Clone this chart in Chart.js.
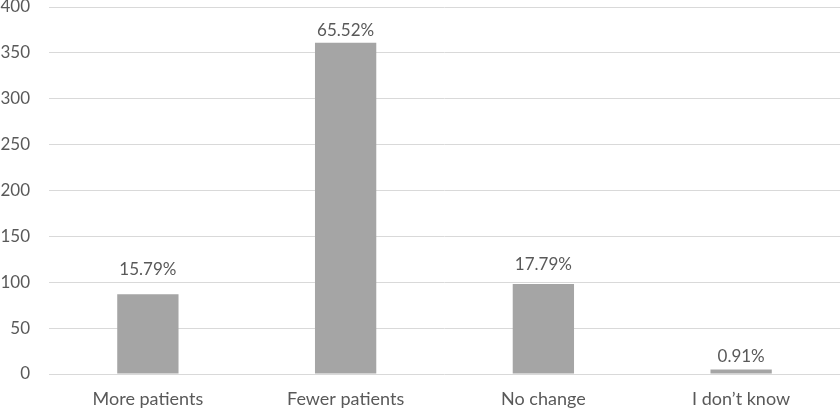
<!DOCTYPE html>
<html>
<head>
<meta charset="utf-8">
<script src="https://cdn.jsdelivr.net/npm/chart.js@4"></script>
<style>
  html, body { margin: 0; padding: 0; background: #fff; }
  #wrap { width: 840px; height: 410px; }
</style>
</head>
<body>
<div id="wrap"><canvas id="chart"></canvas></div>
<script>
const categories = ["More patients", "Fewer patients", "No change", "I don\u2019t know"];
const counts = [87, 361, 98, 5];
const percentLabels = ["15.79%", "65.52%", "17.79%", "0.91%"];

const textColor = "#595959";
const fontFamily = "Lato, 'Open Sans', sans-serif";

// подписи с процентами над столбцами (в оригинале отступы разные)
const barLabels = {
    id: "barLabels",
    afterDatasetsDraw(chart) {
        const ctx = chart.ctx;
        const meta = chart.getDatasetMeta(0);
        const gaps = [16, 4, 11, 4];
        ctx.save();
        ctx.fillStyle = textColor;
        ctx.font = "17px " + fontFamily;
        ctx.textAlign = "center";
        ctx.textBaseline = "bottom";
        meta.data.forEach((bar, i) => {
            ctx.fillText(percentLabels[i], bar.x, bar.y - gaps[i]);
        });
        ctx.restore();
    }
};

new Chart(document.getElementById("chart").getContext("2d"), {
    type: "bar",
    data: {
        labels: categories,
        datasets: [{
            data: counts,
            backgroundColor: "#A5A5A5",
            categoryPercentage: 1,
            barPercentage: 0.31
        }]
    },
    options: {
        responsive: true,
        maintainAspectRatio: false,
        animation: false,
        layout: { padding: { top: 7, right: 0, left: 0, bottom: 0 } },
        plugins: { legend: { display: false }, tooltip: { enabled: false } },
        scales: {
            x: {
                grid: { display: false },
                border: { display: false },
                ticks: { color: textColor, font: { family: fontFamily, size: 18 }, padding: 6 },
                afterFit(scale) { scale.height = 36; scale.paddingLeft = 0; scale.paddingRight = 0; }
            },
            y: {
                min: 0, max: 400,
                grid: { color: "#D9D9D9", lineWidth: 1, drawTicks: false },
                border: { display: false },
                ticks: { stepSize: 50, color: textColor, font: { family: fontFamily, size: 17 }, padding: 19 },
                afterFit(scale) { scale.width = 49; scale.paddingTop = 0; scale.paddingBottom = 0; }
            }
        }
    },
    plugins: [barLabels]
});
</script>
</body>
</html>
